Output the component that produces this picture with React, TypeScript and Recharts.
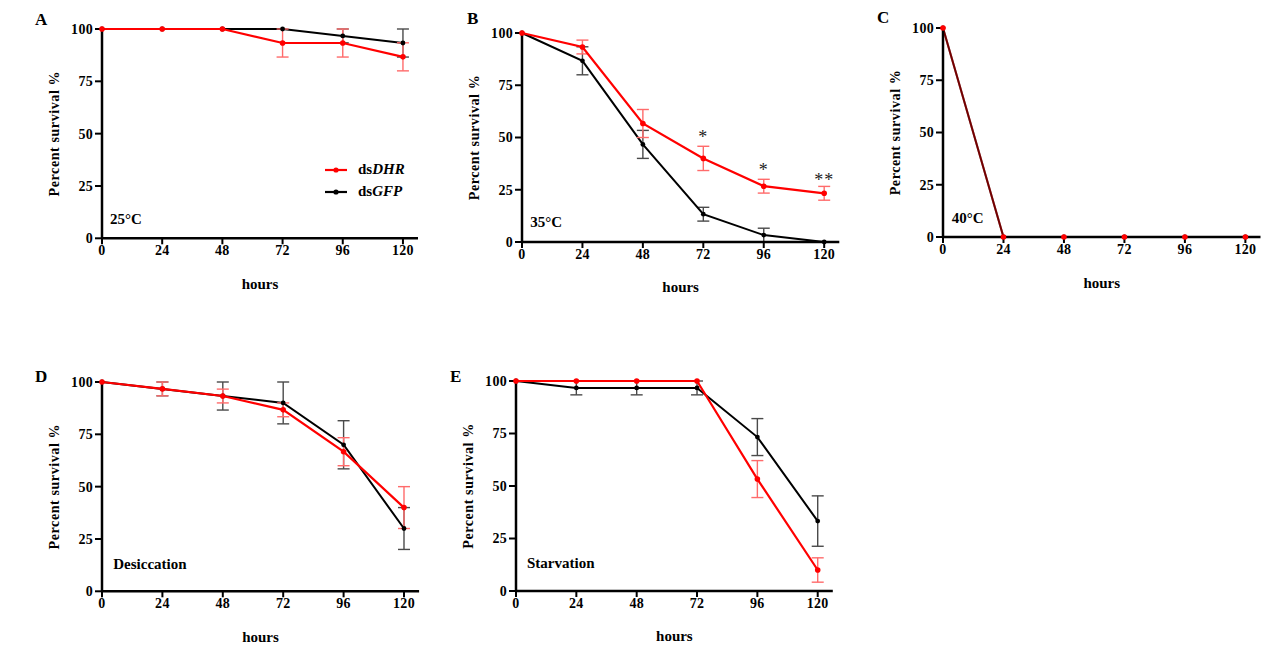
import React from 'react';
import {
  LineChart,
  Line,
  XAxis,
  YAxis,
  ErrorBar,
  ReferenceDot,
  Legend,
} from 'recharts';

// hours post treatment
const hours = [0, 24, 48, 72, 96, 120];
const xTicks = [0, 24, 48, 72, 96, 120];
const yTicks = [0, 25, 50, 75, 100];

// A: 25°C
const dhrA = [100, 100, 100, 93.3, 93.3, 86.7];
const dhrAErr = [0, 0, 0, 6.7, 6.7, 6.7];
const gfpA = [100, 100, 100, 100, 96.7, 93.3];
const gfpAErr = [0, 0, 0, 0, 3.3, 6.7];

// B: 35°C
const dhrB = [100, 93.3, 56.7, 40, 26.7, 23.3];
const dhrBErr = [0, 3.3, 6.7, 5.8, 3.3, 3.3];
const gfpB = [100, 86.7, 46.7, 13.3, 3.3, 0];
const gfpBErr = [0, 6.7, 6.7, 3.3, 3.3, 0];
const sigB = [
  { x: 72, y: 50.4, text: '*' },
  { x: 96, y: 34.4, text: '*' },
  { x: 120, y: 29.7, text: '**' },
];

// C: 40°C
const dhrC = [100, 0, 0, 0, 0, 0];
const dhrCErr = [0, 0, 0, 0, 0, 0];
const gfpC = [100, 0, 0, 0, 0, 0];
const gfpCErr = [0, 0, 0, 0, 0, 0];

// D: desiccation
const dhrD = [100, 96.7, 93.3, 86.7, 66.7, 40];
const dhrDErr = [0, 3.3, 3.3, 3.3, 6.7, 10];
const gfpD = [100, 96.7, 93.3, 90, 70, 30];
const gfpDErr = [0, 3.3, 6.7, 10, 11.5, 10];

// E: starvation
const dhrE = [100, 100, 100, 100, 53.3, 10];
const dhrEErr = [0, 0, 0, 0, 8.8, 5.8];
const gfpE = [100, 96.7, 96.7, 96.7, 73.3, 33.3];
const gfpEErr = [0, 3.3, 3.3, 3.3, 8.8, 12];

const FONT = 'Liberation Serif';
const RED = '#ff0000';
const RED_ERR = '#ff6b6b';
const BLACK = '#000000';
const BLACK_ERR = '#4a4a4a';

function buildRows(dhr: number[], dhrErr: number[], gfp: number[], gfpErr: number[]) {
  return hours.map((h, i) => ({
    hour: h,
    dhr: dhr[i],
    dhrErr: dhrErr[i],
    gfp: gfp[i],
    gfpErr: gfpErr[i],
  }));
}

const textStyle = { fill: '#000', fontWeight: 'bold', fontFamily: FONT };
const tickStyle = { ...textStyle, fontSize: 14, letterSpacing: 0.3 };

function LegendBox({ payload }: any) {
  const items = [...(payload || [])].sort((a: any, b: any) =>
    a.value === 'DHR' ? -1 : b.value === 'DHR' ? 1 : 0
  );
  return (
    <div style={{ fontFamily: FONT, fontWeight: 'bold', fontSize: 15 }}>
      {items.map((it: any) => (
        <div key={it.value} style={{ display: 'flex', alignItems: 'center', height: 22 }}>
          <svg width={33} height={10}>
            <line x1={0} y1={5} x2={22} y2={5} stroke={it.color} strokeWidth={2.2} />
            <circle cx={11} cy={5} r={2.6} fill={it.color} />
          </svg>
          <span>
            ds<i>{it.value}</i>
          </span>
        </div>
      ))}
    </div>
  );
}

interface PanelProps {
  letter: string;
  box: { left: number; top: number; right: number; bottom: number };
  rows: any[];
  note: { x: number; y: number; text: string };
  sig?: { x: number; y: number; text: string }[];
  legend?: boolean;
  overlap?: boolean;
  letterPos: { left: number; top: number };
}

function Panel({ letter, box, rows, note, sig, legend, overlap, letterPos }: PanelProps) {
  const plotW = box.right - box.left;
  const plotH = box.bottom - box.top;
  const width = 100 + plotW + 15;
  const height = 30 + plotH + 65;
  const left = box.left - 100;
  const top = box.top - 30;
  return (
    <>
      <div
        style={{
          position: 'absolute',
          left: letterPos.left,
          top: letterPos.top,
          fontFamily: FONT,
          fontWeight: 'bold',
          fontSize: 17,
          lineHeight: 1,
        }}
      >
        {letter}
      </div>
      <div style={{ position: 'absolute', left, top, fontFamily: FONT }}>
        <LineChart
          width={width}
          height={height}
          data={rows}
          margin={{ top: 30, right: 15, left: 50, bottom: 10 }}
          style={{ fontFamily: FONT }}
        >
          <XAxis
            type="number"
            dataKey="hour"
            domain={[0, 126]}
            ticks={xTicks}
            interval={0}
            tick={tickStyle}
            tickSize={6}
            tickMargin={1}
            axisLine={{ stroke: '#000', strokeWidth: 2.5 }}
            tickLine={{ stroke: '#000', strokeWidth: 2 }}
            height={55}
            label={{
              value: 'hours',
              position: 'insideBottom',
              offset: 4.5,
              style: { ...textStyle, fontSize: 15 },
            }}
          />
          <YAxis
            type="number"
            domain={[0, 100]}
            ticks={yTicks}
            interval={0}
            tick={tickStyle}
            tickSize={7}
            tickMargin={2}
            width={50}
            axisLine={{ stroke: '#000', strokeWidth: 2.5 }}
            tickLine={{ stroke: '#000', strokeWidth: 2 }}
            label={{
              value: 'Percent survival %',
              angle: -90,
              position: 'insideLeft',
              offset: 2,
              style: { ...textStyle, textAnchor: 'middle', fontSize: 14, letterSpacing: 0.6 },
            }}
          />
          <Line
            type="linear"
            dataKey="gfp"
            name="GFP"
            stroke={BLACK}
            strokeWidth={2}
            dot={{ r: 2.4, fill: BLACK, stroke: BLACK, strokeWidth: 0 }}
            activeDot={false}
            isAnimationActive={false}
          >
            <ErrorBar dataKey="gfpErr" width={6} stroke={BLACK_ERR} strokeWidth={1.4} direction="y" />
          </Line>
          <Line
            type="linear"
            dataKey="dhr"
            name="DHR"
            stroke={RED}
            strokeOpacity={overlap ? 0.45 : 1}
            strokeWidth={2.2}
            dot={{ r: 2.8, fill: RED, stroke: RED, strokeWidth: 0 }}
            activeDot={false}
            isAnimationActive={false}
          >
            <ErrorBar dataKey="dhrErr" width={6} stroke={RED_ERR} strokeWidth={1.4} direction="y" />
          </Line>
          <ReferenceDot
            x={note.x}
            y={note.y}
            r={0}
            fill="none"
            stroke="none"
            label={{
              value: note.text,
              position: 'right',
              offset: 5,
              style: { ...textStyle, fontSize: 15 },
            }}
          />
          {(sig || []).map((s) => (
            <ReferenceDot
              key={s.x}
              x={s.x}
              y={s.y}
              r={0}
              fill="none"
              stroke="none"
              label={{
                value: s.text,
                position: 'center',
                style: { fill: '#222', fontSize: 18, fontFamily: FONT, letterSpacing: 1 },
              }}
            />
          ))}
          {legend && (
            <Legend
              layout="horizontal"
              verticalAlign="middle"
              align="center"
              content={<LegendBox />}
              wrapperStyle={{ position: 'absolute', left: 323, top: 160, width: 120 }}
            />
          )}
        </LineChart>
      </div>
    </>
  );
}

export default function App() {
  return (
    <div
      style={{
        position: 'absolute',
        left: 0,
        top: 0,
        width: 1280,
        height: 659,
        background: '#fff',
        overflow: 'hidden',
        fontFamily: FONT,
      }}
    >
      <Panel
        letter="A"
        letterPos={{ left: 35, top: 11 }}
        box={{ left: 102, top: 28.7, right: 418, bottom: 238 }}
        rows={buildRows(dhrA, dhrAErr, gfpA, gfpAErr)}
        note={{ x: 1.2, y: 9.6, text: '25°C' }}
        legend
      />
      <Panel
        letter="B"
        letterPos={{ left: 467, top: 10 }}
        box={{ left: 521.7, top: 33.3, right: 839, bottom: 242.3 }}
        rows={buildRows(dhrB, dhrBErr, gfpB, gfpBErr)}
        note={{ x: 1.3, y: 9.7, text: '35°C' }}
        sig={sigB}
      />
      <Panel
        letter="C"
        letterPos={{ left: 877, top: 9 }}
        box={{ left: 943.3, top: 28.3, right: 1260.8, bottom: 237.3 }}
        rows={buildRows(dhrC, dhrCErr, gfpC, gfpCErr)}
        note={{ x: 1.5, y: 9.2, text: '40°C' }}
        overlap
      />
      <Panel
        letter="D"
        letterPos={{ left: 35, top: 368 }}
        box={{ left: 101.7, top: 381.7, right: 418.8, bottom: 591 }}
        rows={buildRows(dhrD, dhrDErr, gfpD, gfpDErr)}
        note={{ x: 2.5, y: 13.4, text: 'Desiccation' }}
      />
      <Panel
        letter="E"
        letterPos={{ left: 450, top: 368 }}
        box={{ left: 516, top: 381, right: 832.8, bottom: 591 }}
        rows={buildRows(dhrE, dhrEErr, gfpE, gfpEErr)}
        note={{ x: 2.4, y: 13.3, text: 'Starvation' }}
      />
    </div>
  );
}
